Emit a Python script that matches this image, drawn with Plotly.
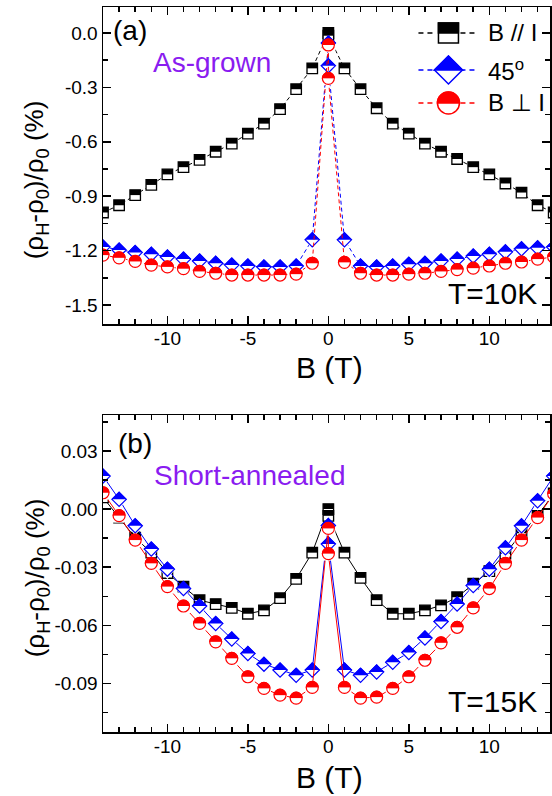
import plotly.graph_objects as go

# ---------------- data ----------------
B = [-14, -13, -12, -11, -10, -9, -8, -7, -6, -5, -4, -3, -2, -1, 0, 0,
     1, 2, 3, 4, 5, 6, 7, 8, 9, 10, 11, 12, 13, 14]

# panel (a) As-grown, T=10K
a_par = [-0.99, -0.95, -0.894, -0.838, -0.78, -0.74, -0.70, -0.655, -0.61, -0.555,
         -0.50, -0.42, -0.31, -0.195, 0.0, -0.015,
         -0.195, -0.31, -0.415, -0.50, -0.555, -0.61, -0.655, -0.695, -0.74, -0.78,
         -0.83, -0.88, -0.95, -0.99]
a_45 = [-1.18, -1.197, -1.21, -1.22, -1.235, -1.247, -1.257, -1.27, -1.28, -1.285,
        -1.29, -1.29, -1.285, -1.14, -0.055, -0.18,
        -1.14, -1.285, -1.29, -1.285, -1.275, -1.27, -1.257, -1.247, -1.23, -1.22,
        -1.207, -1.19, -1.185, -1.18]
a_perp = [-1.225, -1.24, -1.26, -1.28, -1.29, -1.30, -1.315, -1.325, -1.335, -1.335,
          -1.335, -1.335, -1.33, -1.27, -0.066, -0.25,
          -1.265, -1.325, -1.335, -1.335, -1.33, -1.325, -1.315, -1.305, -1.297, -1.285,
          -1.27, -1.263, -1.247, -1.235]

# panel (b) Short-annealed, T=15K
b_par = [0.006, -0.0044, -0.0148, -0.0225, -0.033, -0.040, -0.047, -0.049, -0.051, -0.054,
         -0.0523, -0.046, -0.036, -0.0225, 0.0, -0.0035,
         -0.0225, -0.0355, -0.047, -0.054, -0.054, -0.0523, -0.0497, -0.0455, -0.0385, -0.032,
         -0.023, -0.0125, -0.0035, 0.008]
b_45 = [0.017, 0.005, -0.0086, -0.0206, -0.031, -0.041, -0.050, -0.059, -0.067, -0.0745,
        -0.080, -0.083, -0.0857, -0.083, -0.0085, -0.018,
        -0.083, -0.0857, -0.084, -0.079, -0.074, -0.0665, -0.058, -0.049, -0.0395, -0.031,
        -0.020, -0.0086, 0.0043, 0.017]
b_perp = [0.0084, -0.0034, -0.016, -0.028, -0.040, -0.050, -0.059, -0.0685, -0.077, -0.0865,
          -0.0925, -0.096, -0.0975, -0.092, -0.010, -0.023,
          -0.092, -0.0975, -0.097, -0.0925, -0.0865, -0.078, -0.069, -0.061, -0.051, -0.041,
          -0.028, -0.016, -0.0044, 0.0078]

x_tickvals = [-10, -5, 0, 5, 10]
x_ticktext = ["-10", "-5", "0", "5", "10"]
ya_tickvals = [0.0, -0.3, -0.6, -0.9, -1.2, -1.5]
ya_ticktext = ["0.0", "-0.3", "-0.6", "-0.9", "-1.2", "-1.5"]
yb_tickvals = [0.03, 0.0, -0.03, -0.06, -0.09]
yb_ticktext = ["0.03", "0.00", "-0.03", "-0.06", "-0.09"]

legend_names = ["B // I", "45<sup>o</sup>", "B \u22a5 I"]
BLACK, BLUE, RED = "#000000", "#0000ff", "#ff0000"
PURPLE = "#8a1cf0"
FONT = "Arial, Liberation Sans, sans-serif"

W, H = 552, 796
ML, MR, MT, MB = 103, 0, 6, 64


def fx(px):
    return (px - ML) / (W - ML - MR)


def fy(py):
    return (H - MB - py) / (H - MT - MB)


fig = go.Figure()


def add_series(xax, yax, y, color, kind, dash):
    common = dict(x=B, y=y, xaxis=xax, yaxis=yax, showlegend=False, hoverinfo="skip")
    fig.add_trace(go.Scatter(mode="lines", line=dict(color=color, width=1, dash=dash), **common))
    if kind == "square":
        s = 10.5
        fig.add_trace(go.Scatter(mode="markers", marker=dict(symbol="square", size=s, color="white",
                                                             line=dict(color=color, width=1.3)), **common))
        fig.add_trace(go.Scatter(mode="markers", marker=dict(symbol="line-ew", size=s / 1.4, color=color,
                                                             angle=180, standoff=s / 4,
                                                             line=dict(color=color, width=s / 2)), **common))
    elif kind == "diamond":
        s = 11
        D = 0.65 * s + 0.6
        r = D / 1.1547
        fig.add_trace(go.Scatter(mode="markers", marker=dict(symbol="diamond", size=s, color=color,
                                                             line=dict(color=color, width=1)), **common))
        fig.add_trace(go.Scatter(mode="markers", marker=dict(symbol="triangle-down", size=2 * r, color="white",
                                                             angle=0, standoff=r / 2,
                                                             line=dict(width=0)), **common))
        fig.add_trace(go.Scatter(mode="markers", marker=dict(symbol="diamond-open", size=s, color=color,
                                                             line=dict(color=color, width=1.2)), **common))
    else:
        s = 12
        th = s / 2 + 1
        fig.add_trace(go.Scatter(mode="markers", marker=dict(symbol="circle", size=s, color=color,
                                                             line=dict(color=color, width=1)), **common))
        fig.add_trace(go.Scatter(mode="markers", marker=dict(symbol="line-ew", size=(s + 2) / 1.4, color="white",
                                                             angle=0, standoff=th / 2,
                                                             line=dict(color="white", width=th)), **common))
        fig.add_trace(go.Scatter(mode="markers", marker=dict(symbol="circle-open", size=s, color=color,
                                                             line=dict(color=color, width=1.2)), **common))


for xa, ya, ys, dash in [("x", "y", (a_par, a_45, a_perp), "4px,3px"),
                         ("x2", "y2", (b_par, b_45, b_perp), "solid")]:
    add_series(xa, ya, ys[0], BLACK, "square", dash)
    add_series(xa, ya, ys[1], BLUE, "diamond", dash)
    add_series(xa, ya, ys[2], RED, "circle", dash)

ytitle = "(\u03c1<sub>H</sub>-\u03c1<sub>0</sub>)/\u03c1<sub>0</sub> (%)"
xtitle = "B (T)"

xcommon = dict(range=[-14, 13.77], tickvals=x_tickvals, ticktext=x_ticktext, ticks="inside",
               ticklen=8, tickwidth=1.5, tickcolor="black", showline=True, linewidth=1.5,
               linecolor="black", mirror="ticks", showgrid=False, zeroline=False,
               ticklabelstandoff=-3,
               tickfont=dict(family=FONT, size=19, color="black"),
               minor=dict(dtick=1, tick0=0, ticks="inside", ticklen=5, tickwidth=1.5,
                          tickcolor="black", showgrid=False))
ycommon = dict(ticks="inside", ticklen=8, tickwidth=1.5, tickcolor="black", showline=True,
               linewidth=1.5, linecolor="black", mirror="ticks", showgrid=False, zeroline=False,
               tickfont=dict(family=FONT, size=19, color="black"))

da = [fy(324), fy(7)]
db = [fy(732), fy(415)]

fig.update_layout(
    width=W, height=H, margin=dict(l=ML, r=MR, t=MT, b=MB),
    paper_bgcolor="white", plot_bgcolor="white",
    xaxis=dict(anchor="y", domain=[0, 1], **xcommon),
    yaxis=dict(anchor="x", domain=da, range=[-1.605, 0.1434], tickvals=ya_tickvals,
               ticktext=ya_ticktext,
               minor=dict(dtick=0.15, tick0=0, ticks="inside", ticklen=5, tickwidth=1.5,
                          tickcolor="black", showgrid=False), **ycommon),
    xaxis2=dict(anchor="y2", domain=[0, 1], **xcommon),
    yaxis2=dict(anchor="x2", domain=db, range=[-0.115, 0.0485], tickvals=yb_tickvals,
                ticktext=yb_ticktext,
                minor=dict(dtick=0.015, tick0=0, ticks="inside", ticklen=5, tickwidth=1.5,
                           tickcolor="black", showgrid=False), **ycommon),
)

# ---------------- annotations ----------------
ann = []


def txt(text, px, py, size, color="black", xanchor="left", angle=0, yanchor="middle"):
    ann.append(dict(text=text, x=fx(px), y=fy(py), xref="paper", yref="paper", xanchor=xanchor,
                    yanchor=yanchor, showarrow=False, textangle=angle,
                    font=dict(family=FONT, size=size, color=color)))


txt("(a)", 111, 31, 28)
txt("As-grown", 151, 63, 28, PURPLE)
txt("T=10K", 541, 293, 30, xanchor="right")
txt("(b)", 116, 443, 28)
txt("Short-annealed", 152, 475, 28, PURPLE)
txt("T=15K", 541, 701, 30, xanchor="right")
# axis titles
txt(ytitle, 36, 180, 26, xanchor="center", angle=-90)
txt(ytitle, 36, 578, 26, xanchor="center", angle=-90)
txt(xtitle, 331, 349, 30, xanchor="center", yanchor="top")
txt(xtitle, 331, 759, 30, xanchor="center", yanchor="top")

# legend (drawn manually to reproduce half-filled symbols)
rows = [33, 70, 103]
colors = [BLACK, BLUE, RED]
mx = 450
shapes = []
for i, (py, c) in enumerate(zip(rows, colors)):
    for x0, x1 in [(-30, -12), (12, 30)]:
        shapes.append(dict(type="line", xref="paper", yref="paper", xsizemode="pixel", ysizemode="pixel",
                           xanchor=fx(mx), yanchor=fy(py), x0=x0, x1=x1, y0=0, y1=0,
                           line=dict(color=c, width=1.5, dash="5px,4px")))
    base = dict(xref="paper", yref="paper", xsizemode="pixel", ysizemode="pixel",
                xanchor=fx(mx), yanchor=fy(py))
    if i == 0:
        shapes.append(dict(type="rect", x0=-10, x1=10, y0=-10, y1=10, fillcolor="white",
                           line=dict(color=c, width=1.5), **base))
        shapes.append(dict(type="rect", x0=-10, x1=10, y0=0, y1=10, fillcolor=c,
                           line=dict(color=c, width=1.5), **base))
    elif i == 1:
        shapes.append(dict(type="path", path="M-14,0 L0,-14 L14,0 L0,14 Z", fillcolor="white",
                           line=dict(color=c, width=1.5), **base))
        shapes.append(dict(type="path", path="M-14,0 L0,14 L14,0 Z", fillcolor=c,
                           line=dict(color=c, width=1.5), **base))
    else:
        k = 0.5523 * 11
        shapes.append(dict(type="circle", x0=-11, x1=11, y0=-11, y1=11, fillcolor="white",
                           line=dict(color=c, width=1.5), **base))
        shapes.append(dict(type="path",
                           path=f"M-11,0 C-11,{k:.2f} -{k:.2f},11 0,11 C{k:.2f},11 11,{k:.2f} 11,0 Z",
                           fillcolor=c, line=dict(color=c, width=1.5), **base))
    txt(legend_names[i], 488, py, 24)

fig.update_layout(annotations=ann, shapes=shapes)
fig.write_html("out.html", config={"displayModeBar": False, "staticPlot": True},
               post_script="document.body.style.margin='0';document.body.style.overflow='hidden';")
